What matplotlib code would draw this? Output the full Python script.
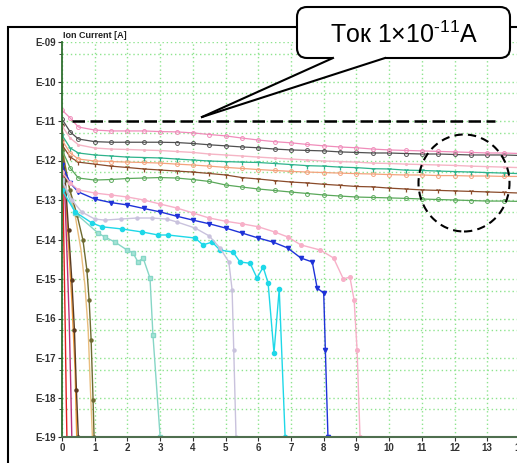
import matplotlib
matplotlib.use("Agg")
import matplotlib.pyplot as plt
from matplotlib.patches import FancyBboxPatch, Polygon, Ellipse, Rectangle
from matplotlib.lines import Line2D
from matplotlib.ticker import FixedLocator, FixedFormatter, NullFormatter, NullLocator

plt.rcParams['font.family'] = ['Liberation Sans', 'DejaVu Sans']
plt.rcParams['mathtext.fontset'] = 'custom'
plt.rcParams['mathtext.rm'] = 'Liberation Sans'
plt.rcParams['mathtext.it'] = 'Liberation Sans:italic'
plt.rcParams['mathtext.bf'] = 'Liberation Sans:bold'

# ==========================================
# DATA (ion current in A vs time)
# ==========================================
X_LONG = [0, 0.25, 0.5, 1, 1.5, 2, 2.5, 3, 3.5, 4, 4.5, 5, 5.5, 6, 6.5, 7,
          7.5, 8, 8.5, 9, 9.5, 10, 10.5, 11, 11.5, 12, 12.5, 13, 13.5, 14]

ION_PINK = [1.9e-11, 1.19e-11, 7.05e-12, 5.9e-12, 5.6e-12, 5.6e-12, 5.6e-12, 5.4e-12,
            5.3e-12, 5.0e-12, 4.55e-12, 4.2e-12, 3.7e-12, 3.3e-12, 3.0e-12, 2.8e-12,
            2.55e-12, 2.35e-12, 2.2e-12, 2.1e-12, 1.95e-12, 1.85e-12, 1.8e-12, 1.75e-12,
            1.7e-12, 1.65e-12, 1.6e-12, 1.55e-12, 1.55e-12, 1.5e-12]
ION_GRAY = [1.12e-11, 5.3e-12, 3.5e-12, 3.0e-12, 2.9e-12, 2.9e-12, 2.9e-12, 2.9e-12,
            2.85e-12, 2.7e-12, 2.5e-12, 2.35e-12, 2.2e-12, 2.1e-12, 1.95e-12, 1.85e-12,
            1.8e-12, 1.75e-12, 1.65e-12, 1.6e-12, 1.55e-12, 1.55e-12, 1.5e-12, 1.46e-12,
            1.46e-12, 1.42e-12, 1.38e-12, 1.38e-12, 1.38e-12, 1.34e-12]
ION_LIGHTPINK = [7.5e-12, 3.7e-12, 2.5e-12, 2.07e-12, 1.95e-12, 1.9e-12, 1.84e-12, 1.79e-12,
                 1.69e-12, 1.6e-12, 1.46e-12, 1.38e-12, 1.3e-12, 1.22e-12, 1.15e-12, 1.09e-12,
                 1.03e-12, 9.7e-13, 9.4e-13, 9.1e-13, 8.6e-13, 8.4e-13, 8.1e-13, 7.9e-13,
                 7.7e-13, 7.5e-13, 7.2e-13, 7.0e-13, 6.8e-13, 6.6e-13]
ION_TEAL = [4.4e-12, 2.07e-12, 1.55e-12, 1.38e-12, 1.3e-12, 1.22e-12, 1.19e-12, 1.16e-12,
            1.09e-12, 1.03e-12, 9.7e-13, 9.4e-13, 9.1e-13, 8.9e-13, 8.4e-13, 7.9e-13,
            7.4e-13, 7.2e-13, 6.8e-13, 6.6e-13, 6.2e-13, 6.1e-13, 5.7e-13, 5.6e-13,
            5.4e-13, 5.25e-13, 5.1e-13, 4.95e-13, 4.8e-13, 4.65e-13]
ION_ORANGE = [3.3e-12, 1.55e-12, 1.09e-12, 9.7e-13, 9.4e-13, 9.1e-13, 8.9e-13, 8.6e-13,
              8.1e-13, 7.7e-13, 7.2e-13, 6.7e-13, 6.3e-13, 5.9e-13, 5.6e-13, 5.3e-13,
              5.1e-13, 4.95e-13, 4.8e-13, 4.65e-13, 4.55e-13, 4.4e-13, 4.3e-13, 4.3e-13,
              4.15e-13, 4.15e-13, 4.05e-13, 4.05e-13, 3.95e-13, 3.95e-13]
ION_BROWN = [2.5e-12, 1.22e-12, 9.1e-13, 8.1e-13, 7.2e-13, 6.65e-13, 6.1e-13, 5.75e-13,
             5.4e-13, 5.1e-13, 4.7e-13, 4.3e-13, 3.7e-13, 3.4e-13, 3.1e-13, 2.85e-13,
             2.7e-13, 2.5e-13, 2.35e-13, 2.2e-13, 2.15e-13, 2.0e-13, 1.9e-13, 1.8e-13,
             1.75e-13, 1.7e-13, 1.65e-13, 1.6e-13, 1.55e-13, 1.5e-13]
ION_GREEN = [1.84e-12, 6.5e-13, 3.6e-13, 3.2e-13, 3.3e-13, 3.5e-13, 3.6e-13, 3.7e-13,
             3.6e-13, 3.3e-13, 2.95e-13, 2.4e-13, 2.13e-13, 1.9e-13, 1.74e-13, 1.59e-13,
             1.46e-13, 1.34e-13, 1.26e-13, 1.19e-13, 1.16e-13, 1.13e-13, 1.1e-13, 1.06e-13,
             1.03e-13, 1.0e-13, 9.7e-14, 9.4e-14, 9.4e-14, 9.2e-14]

X_PINK2 = [0, 0.25, 0.5, 1, 1.5, 2, 2.5, 3, 3.5, 4, 4.5, 5, 5.5, 6, 6.5, 6.9,
           7.3, 7.9, 8.3, 8.6, 8.8, 8.93, 9.02, 9.11]
ION_PINK2 = [5.1e-13, 2.7e-13, 1.8e-13, 1.5e-13, 1.34e-13, 1.19e-13, 1.0e-13, 7.9e-14,
             6.3e-14, 4.7e-14, 3.5e-14, 2.9e-14, 2.5e-14, 2.1e-14, 1.55e-14, 1.16e-14,
             7.3e-15, 5.4e-15, 3.4e-15, 1.0e-15, 1.12e-15, 2.9e-16, 1.6e-17, 1e-19]

X_BLUE = [0, 0.25, 0.5, 1, 1.5, 2, 2.5, 3, 3.5, 4, 4.5, 5, 5.5, 6, 6.45, 6.9,
          7.3, 7.65, 7.8, 8.0, 8.05, 8.13]
ION_BLUE = [7.7e-13, 2.7e-13, 1.6e-13, 1.06e-13, 8.6e-14, 7.5e-14, 6.1e-14, 5.0e-14,
            3.9e-14, 3.1e-14, 2.5e-14, 1.95e-14, 1.46e-14, 1.09e-14, 8.6e-15, 6.1e-15,
            3.4e-15, 2.7e-15, 5.9e-16, 4.4e-16, 1.6e-17, 1e-19]

X_LAVENDER = [0, 0.3, 0.6, 1.0, 1.3, 1.8, 2.3, 2.75, 3.2, 3.5, 4.07, 4.5, 4.83, 5.1,
              5.2, 5.25, 5.32]
ION_LAVENDER = [3.2e-13, 1.0e-13, 5.0e-14, 3.3e-14, 3.1e-14, 3.3e-14, 3.5e-14, 3.5e-14,
                3.3e-14, 2.8e-14, 1.95e-14, 1.23e-14, 6.1e-15, 2.7e-15, 5.3e-16, 1.6e-17, 1e-19]

X_CYAN = [0, 0.4, 0.92, 1.22, 1.83, 2.45, 2.94, 3.24, 4.07, 4.31, 4.59, 4.83, 5.23,
          5.44, 5.75, 5.96, 6.15, 6.3, 6.48, 6.64, 6.82]
ION_CYAN = [1.8e-13, 5.0e-14, 2.6e-14, 2.1e-14, 1.85e-14, 1.55e-14, 1.3e-14, 1.3e-14,
            1.09e-14, 7.3e-15, 8.6e-15, 5.4e-15, 4.8e-15, 2.7e-15, 2.5e-15, 1.06e-15,
            2.0e-15, 7.9e-16, 1.34e-17, 5.6e-16, 1e-19]

X_AQUA = [0, 0.4, 1.1, 1.31, 1.62, 1.99, 2.17, 2.32, 2.48, 2.69, 2.78, 3.0]
ION_AQUA = [3.2e-13, 4.7e-14, 1.46e-14, 1.16e-14, 8.6e-15, 5.4e-15, 4.6e-15, 2.7e-15,
            3.4e-15, 1.06e-15, 3.8e-17, 1e-19]

X_OLIVE = [0, 0.24, 0.46, 0.64, 0.76, 0.83, 0.89, 0.95, 0.98]
ION_OLIVE = [1.84e-12, 1.8e-13, 4.2e-14, 9.7e-15, 1.7e-15, 2.9e-16, 2.9e-17, 8.6e-19, 1e-19]

X_TAN = [0, 0.2, 0.4, 0.58, 0.7, 0.8, 0.87, 0.93]
ION_TAN = [2.5e-12, 2.4e-13, 4.2e-14, 5.4e-15, 7.1e-16, 5.1e-17, 1.55e-18, 1e-19]

X_DARKBROWN = [0, 0.1, 0.2, 0.3, 0.38, 0.44, 0.5]
ION_DARKBROWN = [7.9e-12, 3.2e-13, 1.74e-14, 9.4e-16, 5.1e-17, 1.55e-18, 1e-19]

X_ORANGE2 = [0, 0.1, 0.2, 0.3, 0.4, 0.45]
ION_ORANGE2 = [4.4e-12, 1.8e-13, 7.3e-15, 2.9e-16, 5.0e-18, 1e-19]

X_MAGENTA = [0, 0.08, 0.16, 0.22, 0.27, 0.3]
ION_MAGENTA = [1.06e-11, 1.8e-13, 3.0e-15, 9.2e-17, 1.55e-18, 1e-19]

X_RED = [0, 0.05, 0.1, 0.13, 0.15]
ION_RED = [5.9e-12, 1.74e-14, 5.1e-17, 8.6e-19, 1e-19]

THRESHOLD = 1e-11
THRESHOLD_X = [0.3, 13.25]

X_TICKS = list(range(0, 15))
Y_TICKS = [1e-9, 1e-10, 1e-11, 1e-12, 1e-13, 1e-14, 1e-15, 1e-16, 1e-17, 1e-18, 1e-19]
Y_TICK_LABELS = ["E-09", "E-10", "E-11", "E-12", "E-13", "E-14", "E-15",
                 "E-16", "E-17", "E-18", "E-19"]
Y_MINOR = [5e-10, 5e-11, 5e-12, 5e-13, 5e-14, 5e-15, 5e-16, 5e-17, 5e-18, 5e-19]

# ==========================================
# STYLES
# ==========================================
GRID_COLOR = '#8EE48E'
OPEN = dict(mfc='none', mew=0.7)

SERIES = [
    # fast decays near t=0
    (X_RED, ION_RED, dict(color='#E02020', lw=1.0)),
    (X_ORANGE2, ION_ORANGE2, dict(color='#EE9A3A', lw=1.0)),
    (X_MAGENTA, ION_MAGENTA, dict(color='#B8307A', lw=1.0)),
    (X_DARKBROWN, ION_DARKBROWN, dict(color='#5A3A20', lw=1.0, marker='o', ms=2.2)),
    (X_TAN, ION_TAN, dict(color='#E9BD7D', lw=1.0)),
    (X_OLIVE, ION_OLIVE, dict(color='#6E6A30', lw=1.0, marker='o', ms=2.2)),
    # curves that fall off later
    (X_AQUA, ION_AQUA, dict(color='#86D6C6', lw=1.0, marker='s', ms=2.6, mfc='#A8E4D8')),
    (X_CYAN, ION_CYAN, dict(color='#1ED8E8', lw=1.0, marker='o', ms=3.0)),
    (X_LAVENDER, ION_LAVENDER, dict(color='#C9C2DD', lw=1.0, marker='o', ms=2.2)),
    (X_BLUE, ION_BLUE, dict(color='#1E32D8', lw=1.0, marker='v', ms=3.0)),
    (X_PINK2, ION_PINK2, dict(color='#F7B0C8', lw=1.0, marker='o', ms=2.6)),
    # long-lived curves
    (X_LONG, ION_GREEN, dict(color='#5AA85A', lw=0.9, marker='o', ms=2.8, **OPEN)),
    (X_LONG, ION_BROWN, dict(color='#8A4B2A', lw=0.9, marker='1', ms=3.8, mew=0.9)),
    (X_LONG, ION_ORANGE, dict(color='#F4A27C', lw=0.9, marker='o', ms=2.8, **OPEN)),
    (X_LONG, ION_TEAL, dict(color='#2EB38C', lw=0.9, marker='1', ms=3.8, mew=0.9)),
    (X_LONG, ION_LIGHTPINK, dict(color='#F5B5C5', lw=1.0, marker='.', ms=2.5)),
    (X_LONG, ION_GRAY, dict(color='#505050', lw=0.9, marker='o', ms=2.8, **OPEN)),
    (X_LONG, ION_PINK, dict(color='#F08CBA', lw=0.9, marker='o', ms=2.8, **OPEN)),
]

W, H = 517, 463

# ==========================================
# FIGURE
# ==========================================
fig = plt.figure(figsize=(W / 100, H / 100), dpi=100)
ax = fig.add_axes([62 / W, 1 - 437 / H, (520 - 62) / W, (437 - 42) / H])

ax.set_yscale('log')
ax.set_xlim(0, 14)
ax.set_ylim(1e-19, 1e-9)

for xs, ys, st in SERIES:
    ax.plot(xs, ys, **st)

ax.plot(THRESHOLD_X, [THRESHOLD, THRESHOLD], color='black', lw=1.8, dashes=(5, 2.2), zorder=5)

# ticks
ax.xaxis.set_major_locator(FixedLocator(X_TICKS))
ax.xaxis.set_minor_locator(NullLocator())
ax.yaxis.set_major_locator(FixedLocator(Y_TICKS))
ax.yaxis.set_major_formatter(FixedFormatter(Y_TICK_LABELS))
ax.yaxis.set_minor_locator(FixedLocator(Y_MINOR))
ax.yaxis.set_minor_formatter(NullFormatter())
ax.tick_params(axis='both', which='major', labelsize=7, colors='#333333',
               length=3, width=0.8, pad=1.5)
ax.tick_params(axis='y', which='minor', length=2, width=0.6, color='#333333')
for lab in ax.get_xticklabels() + ax.get_yticklabels():
    lab.set_fontweight('bold')

ax.grid(which='major', axis='both', color=GRID_COLOR, linestyle=(0, (1, 2)), lw=1.0)
ax.grid(which='minor', axis='y', color=GRID_COLOR, linestyle=(0, (1, 2)), lw=1.0)
ax.set_axisbelow(True)

ax.spines['top'].set_visible(False)
ax.spines['right'].set_visible(False)
ax.spines['left'].set_color('#2F6F2F')
ax.spines['left'].set_linewidth(1.3)
ax.spines['bottom'].set_color('#4F6F4F')
ax.spines['bottom'].set_linewidth(1.5)

fig.text(63 / W, 1 - 36 / H, "Ion Current [A]", fontsize=6.5, fontweight='bold',
         color='#222222', ha='left', va='center')

# ==========================================
# ANNOTATIONS (drawn in inches from bottom-left)
# ==========================================
tr = fig.dpi_scale_trans

frame = Rectangle((0.08, -0.2), 6.0, (H - 27) / 100 + 0.2, fill=False,
                  edgecolor='black', lw=1.5, transform=tr, zorder=9)
fig.add_artist(frame)

box = FancyBboxPatch((2.97, (H - 58) / 100), 2.13, 0.51,
                     boxstyle="round,pad=0,rounding_size=0.1",
                     facecolor='white', edgecolor='black', lw=1.5,
                     transform=tr, zorder=10)
fig.add_artist(box)

tip = (2.02, (H - 117) / 100)
base_l = (3.33, (H - 58) / 100)
base_r = (3.85, (H - 58) / 100)
tail_fill = Polygon([tip, base_l, (base_l[0], base_l[1] + 0.03),
                     (base_r[0], base_r[1] + 0.03), base_r],
                    closed=True, facecolor='white', edgecolor='none',
                    transform=tr, zorder=11)
fig.add_artist(tail_fill)
for b in (base_l, base_r):
    fig.add_artist(Line2D([tip[0], b[0]], [tip[1], b[1]], color='black', lw=1.5,
                          transform=tr, zorder=12))

fig.text(4.04, (H - 35) / 100, r"Ток 1×10$^{\text{-11}}$A", fontsize=18, color='black',
         ha='center', va='center', transform=tr, zorder=13)

circle = Ellipse((4.64, (H - 183) / 100), 0.91, 0.97, fill=False, edgecolor='black',
                 lw=1.5, linestyle=(0, (4, 2.5)), transform=tr, zorder=10)
fig.add_artist(circle)

fig.savefig('out.png', dpi=100)
